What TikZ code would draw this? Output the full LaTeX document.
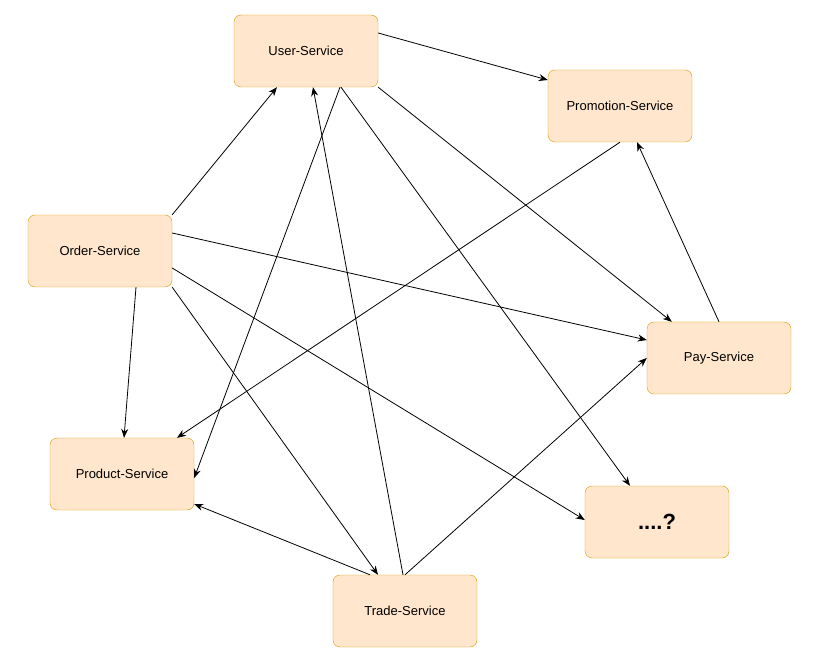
\documentclass[tikz,border=0pt]{standalone}
\usepackage{fontspec}
\setmainfont{Liberation Sans}
\usetikzlibrary{arrows.meta}
\definecolor{boxfill}{HTML}{FFE6CC}
\definecolor{boxdraw}{HTML}{D79B00}
\begin{document}
\begin{tikzpicture}[x=1pt,y=-1pt,
  svc/.style={draw=boxdraw,fill=boxfill,rounded corners=7pt,minimum width=144pt,minimum height=72pt,inner sep=0pt,font=\fontsize{13}{15}\selectfont},
  arr/.style={-{Stealth[length=9pt,width=7pt]},line width=0.8pt}]
\useasboundingbox (0,0) rectangle (828,668);
\node[svc] (u) at (306,51) {User-Service};
\node[svc] (p) at (620,106) {Promotion-Service};
\node[svc] (o) at (100,251) {Order-Service};
\node[svc] (pay) at (719,358) {Pay-Service};
\node[svc] (pr) at (122,474) {Product-Service};
\node[svc,font=\fontsize{22}{26}\selectfont\bfseries] (d) at (657,522) {....?};
\node[svc] (t) at (405,611) {Trade-Service};
\draw[arr] ([yshift=18pt]u.east) -- ([yshift=26pt]p.west);
\draw[arr] (u.south east) -- ([xshift=25pt]pay.north west);
\draw[arr] ([xshift=34pt]u.south) -- ([yshift=-4pt]pr.east);
\draw[arr] ([xshift=35pt]u.south) -- ([xshift=-27pt]d.north);
\draw[arr] (p.south) -- ([xshift=55pt]pr.north);
\draw[arr] (o.north east) -- ([xshift=-29pt]u.south);
\draw[arr] ([yshift=18pt]o.east) -- ([yshift=18pt]pay.west);
\draw[arr] ([yshift=-17pt]o.east) -- ([yshift=2pt]d.west);
\draw[arr] ([xshift=36pt]o.south) -- ([xshift=2pt]pr.north);
\draw[arr] (o.south east) -- ([xshift=-27pt]t.north);
\draw[arr] (pay.north) -- ([xshift=17pt]p.south);
\draw[arr] ([xshift=-2pt]t.north) -- ([xshift=7pt]u.south);
\draw[arr] ([xshift=-35pt]t.north) -- ([yshift=-30pt]pr.east);
\draw[arr] (t.north) -- (pay.west);
\end{tikzpicture}
\end{document}
